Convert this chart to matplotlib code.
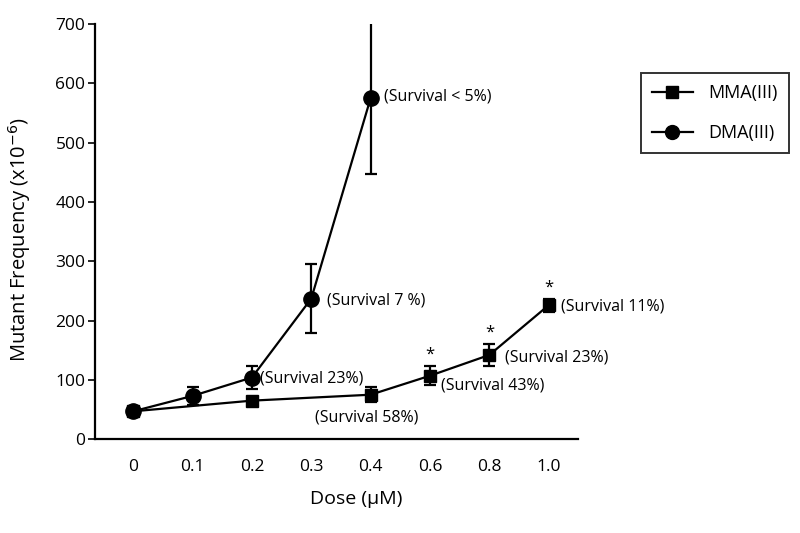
import matplotlib
matplotlib.use('Agg')
from matplotlib import pyplot as plt, rcParams
from matplotlib.lines import Line2D

rcParams['font.family'] = ['Open Sans', 'DejaVu Sans']

doses = ['0', '0.1', '0.2', '0.3', '0.4', '0.6', '0.8', '1.0']

# MMA(III): index into doses, mean, error
mma_idx = [0, 2, 4, 5, 6, 7]
mma_val = [47, 65, 75, 107, 142, 226]
mma_err = [4, 5, 13, 16, 19, 11]

# DMA(III)
dma_idx = [0, 1, 2, 3, 4]
dma_val = [47, 73, 104, 237, 575]
dma_err = [4, 15, 20, 58, 128]

star_idx = [5, 6, 7]
star_y = [142, 179, 255]

# (text, x index, y value)
notes = [
    ('(Survival < 5%)', 4.22, 577),
    ('(Survival 7 %)', 3.27, 233),
    ('(Survival 23%)', 2.13, 103),
    ('(Survival 58%)', 3.07, 36),
    ('(Survival 43%)', 5.18, 90),
    ('(Survival 23%)', 6.27, 137),
    ('(Survival 11%)', 7.2, 224),
]

fig = plt.figure(figsize=(8, 5.33), dpi=100)
ax = fig.add_axes([0.119, 0.176, 0.604, 0.779])

ax.errorbar(mma_idx, mma_val, yerr=mma_err, color='black', marker='s',
            markersize=9, linewidth=1.6, elinewidth=1.6, capsize=4,
            capthick=1.6)
ax.errorbar(dma_idx, dma_val, yerr=dma_err, color='black', marker='o',
            markersize=11, linewidth=1.6, elinewidth=1.6, capsize=4,
            capthick=1.6)

for i, y in zip(star_idx, star_y):
    ax.text(i, y, '*', ha='center', va='center', fontsize=12)

for t, x, y in notes:
    ax.text(x, y, t, ha='left', va='center', fontsize=11.5)

ax.set_xlim(-0.64, 7.5)
ax.set_ylim(0, 700)
ax.set_xticks(range(len(doses)))
ax.set_xticklabels(doses)
ax.set_yticks(range(0, 701, 100))
ax.tick_params(axis='both', labelsize=12.5, width=1.2, length=5)
ax.tick_params(axis='y', pad=2)
ax.tick_params(axis='x', length=0, pad=14)
for s in ['top', 'right']:
    ax.spines[s].set_visible(False)
for s in ['left', 'bottom']:
    ax.spines[s].set_linewidth(1.6)

ax.set_xlabel('Dose (µM)', fontsize=14)
ax.xaxis.set_label_coords(0.54, -0.122)
ax.set_ylabel('Mutant Frequency (x10$^{-6}$)', fontsize=14.5)
ax.yaxis.set_label_coords(-0.128, 0.48)

handles = [
    Line2D([], [], color='black', marker='s', markersize=9, linewidth=1.6),
    Line2D([], [], color='black', marker='o', markersize=10, linewidth=1.6),
]
leg = fig.legend(handles, ['MMA(III)', 'DMA(III)'], loc='upper left',
                 bbox_to_anchor=(0.801, 0.863), frameon=True,
                 fancybox=False, edgecolor='black', fontsize=13,
                 borderpad=0.6, labelspacing=1.25, handlelength=2.3,
                 handletextpad=0.85, borderaxespad=0)
leg.get_frame().set_linewidth(1.4)

fig.savefig('out.png', dpi=100)
